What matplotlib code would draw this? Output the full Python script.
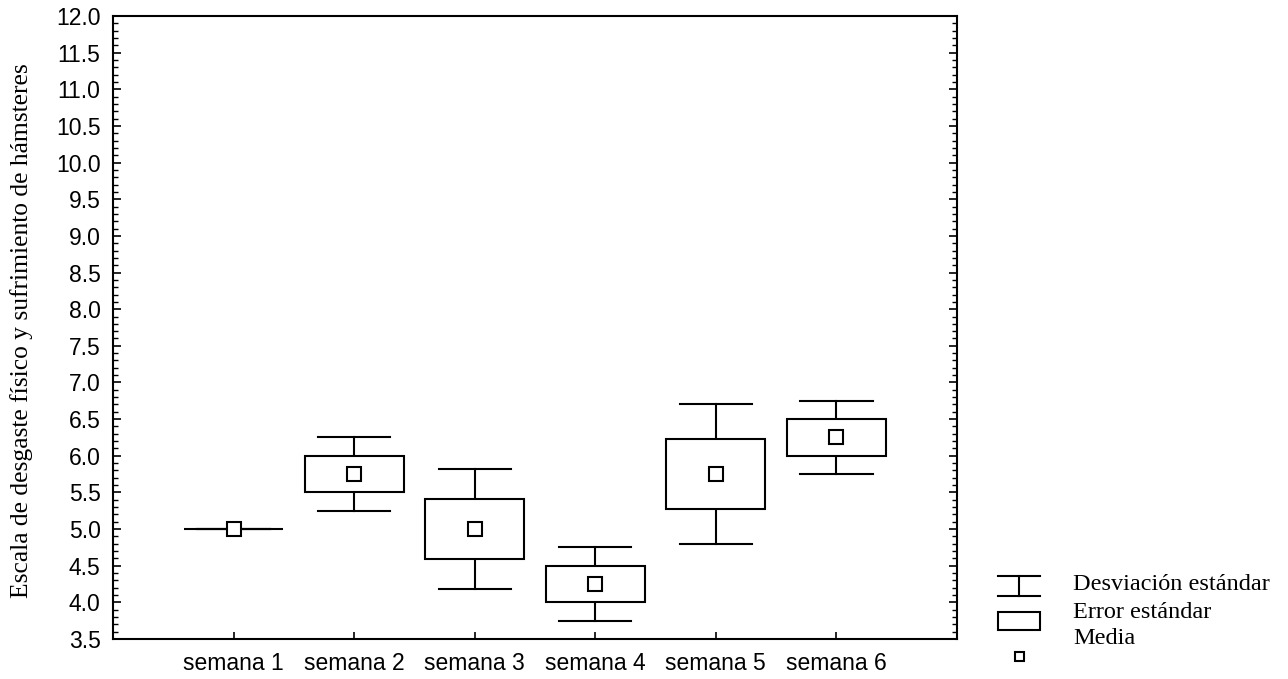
import numpy as np
import matplotlib.pyplot as plt
from matplotlib.patches import Rectangle
from matplotlib.lines import Line2D
from matplotlib.ticker import MultipleLocator

semanas = ['semana 1', 'semana 2', 'semana 3', 'semana 4', 'semana 5', 'semana 6']
media = [5.0, 5.75, 5.0, 4.25, 5.75, 6.25]
error_est = [0.0, 0.25, 0.408, 0.25, 0.479, 0.25]
desv_est = [0.0, 0.5, 0.816, 0.5, 0.957, 0.5]

W, H = 1288, 679
fig = plt.figure(figsize=(W / 100, H / 100), dpi=100)
ax = fig.add_axes([113 / W, 1 - 639 / H, 844 / W, 623 / H])

lw = 1.5
caja = 0.82
tope = 0.6
x = np.arange(1, len(semanas) + 1)

for xi, m, se, sd in zip(x, media, error_est, desv_est):
    # bigotes: media +/- desviacion estandar
    ax.plot([xi, xi], [m - sd, m + sd], color='black', lw=lw, zorder=1)
    ax.plot([xi - tope / 2, xi + tope / 2], [m + sd, m + sd], color='black', lw=lw, zorder=1)
    ax.plot([xi - tope / 2, xi + tope / 2], [m - sd, m - sd], color='black', lw=lw, zorder=1)
    # caja: media +/- error estandar
    ax.add_patch(Rectangle((xi - caja / 2, m - se), caja, 2 * se,
                           facecolor='white', edgecolor='black', lw=lw, zorder=2))
    ax.plot(xi, m, marker='s', ms=9.5, mfc='white', mec='black', mew=lw, zorder=3)

ax.set_xlim(0, 7)
ax.set_ylim(3.5, 12.0)
ax.set_xticks(x)
ax.set_xticklabels(semanas)
ax.yaxis.set_major_locator(MultipleLocator(0.5))
ax.yaxis.set_minor_locator(MultipleLocator(0.1))
ax.yaxis.set_major_formatter(plt.FormatStrFormatter('%.1f'))

for s in ax.spines.values():
    s.set_linewidth(lw)

ax.tick_params(axis='y', which='major', direction='in', length=6, width=1.2,
               left=True, right=True, labelsize=16.5, pad=9)
ax.tick_params(axis='y', which='minor', direction='in', length=3.5, width=1.0,
               left=True, right=True)
ax.tick_params(axis='x', which='major', direction='in', length=5, width=1.2,
               labelsize=16.5, pad=9.5)
for lab in ax.get_xticklabels() + ax.get_yticklabels():
    lab.set_family('Liberation Sans')

fig.text(22 / W, 1 - 331 / H, 'Escala de desgaste físico y sufrimiento de hámsteres',
         rotation=90, ha='center', va='center', family='Liberation Serif', fontsize=18.4)

# leyenda dibujada a mano
def px(xp, yp):
    return xp / W, 1 - yp / H

def linea(x0, y0, x1, y1):
    (a, b), (c, d) = px(x0, y0), px(x1, y1)
    fig.add_artist(Line2D([a, c], [b, d], color='black', lw=1.5))

linea(998, 576, 1040, 576)
linea(998, 596, 1040, 596)
linea(1019, 576, 1019, 596)
bx, by = px(998, 630)
fig.add_artist(Rectangle((bx, by), 42 / W, 18 / H, transform=fig.transFigure,
                         facecolor='white', edgecolor='black', lw=1.5))
sx, sy = px(1015, 661)
fig.add_artist(Rectangle((sx, sy), 9 / W, 9 / H, transform=fig.transFigure,
                         facecolor='white', edgecolor='black', lw=1.5))

for texto, yp in [('Desviación estándar', 585), ('Error estándar', 613), ('Media', 638)]:
    tx, ty = px(1073, yp)
    fig.text(tx, ty, texto, ha='left', va='center', family='Liberation Serif', fontsize=17.5)

fig.savefig('out.png', dpi=100)
